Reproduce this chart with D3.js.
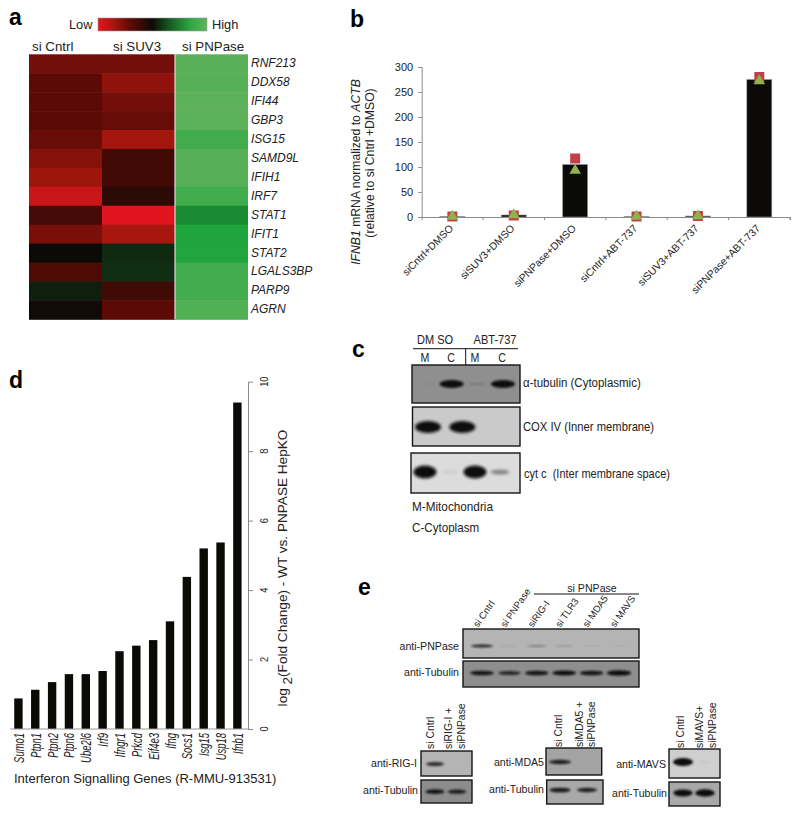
<!DOCTYPE html>
<html>
<head>
<meta charset="utf-8">
<script src="https://cdnjs.cloudflare.com/ajax/libs/d3/7.8.5/d3.min.js"></script>
<style>
	html, body { margin: 0; padding: 0; background: #fff; }
	svg { display: block; }
	text { font-family: "Liberation Sans", Arial, sans-serif; fill: #222; }
</style>
</head>
<body>
<svg id="fig" width="800" height="816"></svg>
<script>
// panel a
var heatGenes = ['RNF213','DDX58','IFI44','GBP3','ISG15','SAMD9L','IFIH1','IRF7','STAT1','IFIT1','STAT2','LGALS3BP','PARP9','AGRN'];
var heatColumns = ['si Cntrl','si SUV3','si PNPase'];
var heatCntrl = [-.5,-.4,-.4,-.4,-.45,-.57,-.68,-.87,-.28,-.52,0,-.33,.08,-.03];
var heatSUV3 = [-.5,-.62,-.5,-.45,-.7,-.27,-.27,-.16,-.97,-.72,.12,.14,-.26,-.4];
var heatPNPase = [.95,.93,.97,.97,.8,.93,.93,.8,.5,.6,.62,.8,.8,.9];

// panel b
var bCategories = ['siCntrl+DMSO','siSUV3+DMSO','siPNPase+DMSO','siCntrl+ABT-737','siSUV3+ABT-737','siPNPase+ABT-737'];
var bMeans = [1,4,105,1,2,275];
var bRepA = [1,3,117,1,2,280];
var bRepB = [1,4,93,1,2,272];
var bTicks = [0,50,100,150,200,250,300];

// panel d
var dGenes = ['Sumo1','Ptpn1','Ptpn2','Ptpn6','Ube2l6','Irf9','Ifngr1','Prkcd','Eif4e3','Ifng','Socs1','Isg15','Usp18','Ifnb1'];
var dFold = [.88,1.13,1.35,1.58,1.58,1.67,2.24,2.4,2.56,3.1,4.38,5.2,5.37,9.4];
var dTicks = [0,2,4,6,8,10];

// blots: band strength per lane, 0 = nothing, 1 = saturated
var cLanes = ['M1','C1','M2','C2'];
var cTubulin = [.06,1,.2,1];
var cCox = [1,0,1,0];
var cCyt = [1,.12,1,.45];
var eLanes = ['si Cntrl','si PNPase','siRIG-I','si TLR3','si MDA5','si MAVS'];
var ePnpase = [.8,.2,.45,.3,.15,.15];
var eTubulin = [.85,.75,.85,.9,.85,.95];
var pairLanes = ['si','ko'];
var rigTop = [.75,0], rigTub = [.85,.8];
var mdaTop = [.8,0], mdaTub = [.85,.8];
var mavsTop = [1,.08], mavsTub = [.9,.95];

var svg = d3.select('#fig');
var defs = svg.append('defs');

function blurDef(id, dev){
	defs.append('filter').attr('id', id)
		.attr('x','-30%').attr('y','-60%').attr('width','160%').attr('height','220%')
		.append('feGaussianBlur').attr('stdDeviation', dev);
}
blurDef('soft', 1);
blurDef('softer', 1.6);

// x, y are the baseline start; sx squeezes the text along its length
function label(x, y, str, o){
	o = o || {};
	var t = svg.append('text')
		.attr('transform', 'translate(' + x + ',' + y + ') rotate(' + (o.rot || 0) + ') scale(' + (o.sx || 1) + ',1)')
		.attr('font-size', o.size || 11)
		.attr('text-anchor', o.anchor || 'start')
		.text(str);
	if(o.italic) t.attr('font-style', 'italic');
	if(o.bold) t.attr('font-weight', 'bold').style('fill', '#000');
	return t;
}

[['a',9,25],['b',350,27],['c',352,357],['d',9,388],['e',358,595]].forEach(function(p){
	label(p[1], p[2], p[0], {size: 23, bold: true});
});

/* ---------- a: heatmap ---------- */
var heatColor = d3.scaleLinear()
	.domain([-1,-.7,-.4,0,.6,1])
	.range(['#e8141f','#a2160e','#5c0a05','#0c0a06','#1ea53c','#62b25c']);

var heatX = d3.scaleBand().domain(heatColumns).range([29,248]);
var heatY = d3.scaleBand().domain(heatGenes).range([54.3,319.3]);

[heatCntrl, heatSUV3, heatPNPase].forEach(function(vals, c){
	svg.append('g').selectAll('rect').data(vals).join('rect')
		.attr('x', heatX(heatColumns[c]))
		.attr('y', function(d,i){ return heatY(heatGenes[i]); })
		.attr('width', heatX.bandwidth() + (c < 2 ? .5 : 0))
		.attr('height', heatY.bandwidth() + .5)
		.attr('fill', function(d){ return heatColor(d); });
});
svg.append('line').attr('x1',175).attr('x2',175).attr('y1',54).attr('y2',319.5)
	.attr('stroke','#ddd').attr('stroke-width',1.2);

heatGenes.forEach(function(g){
	label(251, heatY(g) + heatY.bandwidth()/2 + 3.5, g, {size: 12, italic: true});
});
label(32, 50.5, heatColumns[0], {size: 13.3});
label(113, 50.5, heatColumns[1], {size: 13.3});
label(182, 50.5, heatColumns[2], {size: 13.3});

var legendGrad = defs.append('linearGradient').attr('id','heatLegend');
[-1,-.7,-.4,0,.3,.7,1].forEach(function(v){
	legendGrad.append('stop').attr('offset', ((v + 1) / 2 * 100) + '%').attr('stop-color', heatColor(v));
});
svg.append('rect').attr('x',98).attr('y',18).attr('width',109).attr('height',13)
	.attr('fill','url(#heatLegend)').attr('stroke','#999').attr('stroke-width',.6);
label(69, 29, 'Low', {size: 12.8});
label(212, 29, 'High', {size: 12.8});

/* ---------- b: bars with replicates ---------- */
var bX = d3.scaleBand().domain(bCategories).range([421.7,790]);
var bY = d3.scaleLinear().domain([0,300]).range([217,67]);

svg.append('g').selectAll('rect').data(bMeans).join('rect')
	.attr('x', function(d,i){ return bX(bCategories[i]) + bX.bandwidth()/2 - 12.5; })
	.attr('y', function(d){ return bY(d); })
	.attr('width', 25)
	.attr('height', function(d){ return bY(0) - bY(d); })
	.attr('fill', '#0c0a06')
	.attr('stroke', '#999').attr('stroke-width', .6);

var bLeft = d3.axisLeft(bY).tickValues(bTicks).tickSize(3.5).tickPadding(5);
var bBottom = d3.axisBottom(bX).tickFormat('').tickSize(3).tickSizeOuter(3);
var bAxisL = svg.append('g').attr('transform','translate(421.7,0)').call(bLeft);
var bAxisB = svg.append('g').attr('transform','translate(0,217)').call(bBottom);
// excel style axis: ticks sit between the categories
bAxisB.selectAll('.tick line').attr('transform', 'translate(' + (bX.bandwidth()/2) + ',0)');
[bAxisL, bAxisB].forEach(function(a){
	a.selectAll('path,line').attr('stroke','#8a8a8a').attr('stroke-width',1);
});
bAxisL.selectAll('text').attr('font-size',11).attr('font-family','Liberation Sans').style('fill','#222');

svg.append('g').selectAll('rect').data(bRepA).join('rect')
	.attr('x', function(d,i){ return bX(bCategories[i]) + bX.bandwidth()/2 - 5; })
	.attr('y', function(d){ return bY(d) - 5; })
	.attr('width', 10).attr('height', 10)
	.attr('fill', '#c0414a');
var tri = d3.symbol().type(d3.symbolTriangle).size(58);
svg.append('g').selectAll('path').data(bRepB).join('path')
	.attr('d', tri)
	.attr('transform', function(d,i){
		return 'translate(' + (bX(bCategories[i]) + bX.bandwidth()/2) + ',' + bY(d) + ')';
	})
	.attr('fill', '#8fb24a');

bCategories.forEach(function(c){
	label(bX(c) + bX.bandwidth()/2 + 1.5, 229, c, {size: 10.4, rot: -45, anchor: 'end'});
});

var bTitle = label(360, 172, '', {size: 12.2, rot: -90, anchor: 'middle'});
bTitle.append('tspan').attr('font-style','italic').text('IFNB1');
bTitle.append('tspan').text(' mRNA normalized to ');
bTitle.append('tspan').attr('font-style','italic').text('ACTB');
label(374, 163, '(relative to si Cntrl +DMSO)', {size: 12.2, rot: -90, anchor: 'middle'});

/* ---------- d: fold change bars ---------- */
var dX = d3.scaleBand().domain(dGenes).range([10,245.8]);
var dY = d3.scaleLinear().domain([0,10]).range([729,381.7]);

svg.append('g').selectAll('rect').data(dFold).join('rect')
	.attr('x', function(d,i){ return dX(dGenes[i]) + dX.bandwidth()/2 - 4.2; })
	.attr('y', function(d){ return dY(d); })
	.attr('width', 8.4)
	.attr('height', function(d){ return dY(0) - dY(d); })
	.attr('fill', '#0c0a06');

svg.append('line').attr('x1',10).attr('x2',248).attr('y1',729).attr('y2',729)
	.attr('stroke','#9a9a9a');
var dAxis = svg.append('g').attr('transform','translate(248,0)')
	.call(d3.axisRight(dY).tickValues(dTicks).tickSize(5).tickSizeOuter(0).tickFormat(''));
dAxis.selectAll('path,line').attr('stroke','#8a8a8a');
dTicks.forEach(function(t){
	label(268, dY(t), t, {size: 11.5, rot: -90, anchor: 'middle', sx: .8});
});
dGenes.forEach(function(g){
	label(dX(g) + dX.bandwidth()/2 + 5.5, 733, g, {size: 15, italic: true, rot: -90, anchor: 'end', sx: .63});
});
label(14, 783, 'Interferon Signalling Genes (R-MMU-913531)', {size: 13});

var dTitle = label(287, 568, '', {size: 13.6, rot: -90, anchor: 'middle'});
dTitle.append('tspan').text('log ');
dTitle.append('tspan').attr('dy', 5).text('2');
dTitle.append('tspan').attr('dy', -5).text('(Fold Change) - WT vs. PNPASE HepKO');

/* ---------- western blots ---------- */
function blot(p){
	var g = svg.append('g');
	var clipId = 'clip' + (blot.n = (blot.n || 0) + 1);
	defs.append('clipPath').attr('id', clipId).append('rect')
		.attr('x', p.x).attr('y', p.y).attr('width', p.w).attr('height', p.h);
	var body = g.append('g').attr('clip-path', 'url(#' + clipId + ')');
	body.append('rect').attr('x', p.x).attr('y', p.y).attr('width', p.w).attr('height', p.h)
		.attr('fill', p.bg);
	var laneX = d3.scalePoint().domain(p.lanes).range(p.range);
	body.selectAll('ellipse').data(p.bands).join('ellipse')
		.attr('cx', function(d,i){ return laneX(p.lanes[i]); })
		.attr('cy', p.bandY)
		.attr('rx', function(d){ return p.bw/2 * (.65 + .35*d); })
		.attr('ry', function(d){ return p.bh/2 * (.2 + .8*d*d); })
		.attr('fill', '#111')
		.attr('opacity', function(d){ return Math.min(1, Math.pow(d, 1.2)*1.15); })
		.attr('filter', 'url(#' + (p.blur || 'soft') + ')');
	g.append('rect').attr('x', p.x).attr('y', p.y).attr('width', p.w).attr('height', p.h)
		.attr('fill', 'none').attr('stroke', '#151515').attr('stroke-width', 1.4);
}

/* c */
blot({x:412, y:365, w:108, h:38, bg:'#8f8f8f', lanes:cLanes, range:[426,503], bands:cTubulin, bandY:384, bw:24, bh:8});
blot({x:412.5, y:407, w:107.5, h:39, bg:'#cacaca', lanes:cLanes, range:[428,479.5], bands:cCox, bandY:427, bw:26, bh:12, blur:'softer'});
blot({x:411, y:453, w:109, h:40, bg:'#dcdcdc', lanes:cLanes, range:[425,500], bands:cCyt, bandY:472, bw:23, bh:13, blur:'softer'});

label(417, 344, 'DM SO', {size: 13, sx: .85});
label(495, 344, 'ABT-737', {size: 13, sx: .85, anchor: 'middle'});
svg.append('line').attr('x1',413).attr('x2',518).attr('y1',348.7).attr('y2',348.7).attr('stroke','#111');
svg.append('line').attr('x1',465.7).attr('x2',465.7).attr('y1',348.7).attr('y2',365).attr('stroke','#111');
[['M',425],['C',451],['M',475],['C',502]].forEach(function(m){
	label(m[1], 362, m[0], {size: 12.5, anchor: 'middle', sx: .85});
});
label(523, 387, 'α-tubulin (Cytoplasmic)', {size: 12.5, sx: .92});
label(523, 431, 'COX IV (Inner membrane)', {size: 12.5, sx: .9});
label(524, 478, 'cyt c  (Inter membrane space)', {size: 12.5, sx: .88}).attr('xml:space','preserve');
label(412, 511, 'M-Mitochondria', {size: 12.5, sx: .94});
label(412, 532, 'C-Cytoplasm', {size: 12.5, sx: .93});

/* e */
blot({x:463, y:629, w:176, h:29, bg:'#b4b4b4', lanes:eLanes, range:[482,619], bands:ePnpase, bandY:646, bw:24, bh:4});
blot({x:463, y:661, w:176, h:26, bg:'#8e8e8e', lanes:eLanes, range:[482,619], bands:eTubulin, bandY:673, bw:25, bh:6});
label(459, 650, 'anti-PNPase', {size: 10.6, anchor: 'end'});
label(459, 676, 'anti-Tubulin', {size: 10.6, anchor: 'end'});
label(592, 592, 'si PNPase', {size: 10.6, anchor: 'middle'});
svg.append('line').attr('x1',534).attr('x2',639).attr('y1',594).attr('y2',594).attr('stroke','#111');
var eLabelStart = d3.scalePoint().domain(eLanes).range([478,615]);
eLanes.forEach(function(l){
	label(eLabelStart(l), 628, l, {size: 9.6, rot: -55});
});

blot({x:421, y:751, w:51, h:25, bg:'#b4b4b4', lanes:pairLanes, range:[435,457], bands:rigTop, bandY:764, bw:20, bh:6});
blot({x:421, y:780, w:51, h:23, bg:'#8c8c8c', lanes:pairLanes, range:[435,457], bands:rigTub, bandY:791.7, bw:20, bh:6});
label(417, 767, 'anti-RIG-I', {size: 10.6, anchor: 'end'});
label(418, 794, 'anti-Tubulin', {size: 10.6, anchor: 'end'});
label(434, 749, 'si Cntrl', {size: 10.4, rot: -90});
label(452, 749, 'siRIG-I +', {size: 10.4, rot: -90});
label(465, 749, 'siPNPase', {size: 10.4, rot: -90});

blot({x:546, y:748, w:55.7, h:27, bg:'#a4a4a4', lanes:pairLanes, range:[560,587], bands:mdaTop, bandY:762, bw:24, bh:6});
blot({x:546.7, y:780, w:56.3, h:24, bg:'#a8a8a8', lanes:pairLanes, range:[560,587], bands:mdaTub, bandY:790, bw:22, bh:6});
label(544, 766, 'anti-MDA5', {size: 10.6, anchor: 'end'});
label(544, 793, 'anti-Tubulin', {size: 10.6, anchor: 'end'});
label(562, 747, 'si Cntrl', {size: 10.4, rot: -90});
label(583, 747, 'siMDA5 +', {size: 10.4, rot: -90});
label(595, 747, 'siPNPase', {size: 10.4, rot: -90});

blot({x:669, y:749, w:51, h:29, bg:'#cfcfcf', lanes:pairLanes, range:[683,705], bands:mavsTop, bandY:762, bw:20, bh:8});
blot({x:669, y:782, w:51, h:24, bg:'#a8a8a8', lanes:pairLanes, range:[683,705], bands:mavsTub, bandY:793, bw:20, bh:8});
label(666, 768, 'anti-MAVS', {size: 10.6, anchor: 'end'});
label(667, 797, 'anti-Tubulin', {size: 10.6, anchor: 'end'});
label(684, 748, 'si Cntrl', {size: 10.4, rot: -90});
label(703, 748, 'siMAVS+', {size: 10.4, rot: -90});
label(716, 748, 'siPNPase', {size: 10.4, rot: -90});
</script>
</body>
</html>
